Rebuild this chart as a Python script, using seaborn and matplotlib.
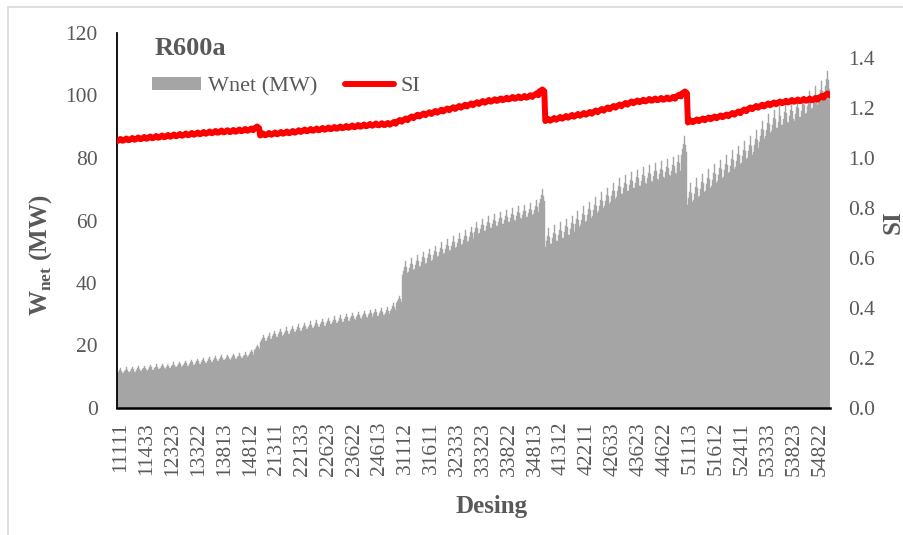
import numpy as np
import pandas as pd
import seaborn as sns
import matplotlib
matplotlib.use("Agg")
import matplotlib.pyplot as plt
from matplotlib.patches import Patch, Rectangle
from matplotlib.lines import Line2D

# ---------------------------------------------------------------
# Net power (MW): lower edge of each sawtooth tooth, 24 teeth per
# first design digit (1..5)
# ---------------------------------------------------------------
wnet_g1 = [11.0, 11.2, 11.4, 11.6, 11.8, 12.0, 12.2, 12.4, 12.6, 12.8, 13.0, 13.3,
           13.6, 13.9, 14.2, 14.5, 14.8, 15.1, 15.3, 15.5, 15.7, 16.0, 16.8, 18.5]
wnet_g2 = [21.0, 21.6, 22.2, 22.8, 23.3, 23.8, 24.3, 24.8, 25.2, 25.6, 26.0, 26.4,
           26.8, 27.2, 27.6, 28.0, 28.3, 28.6, 28.9, 29.2, 29.5, 29.8, 31.0, 33.5]
wnet_g3 = [42.5, 43.5, 44.5, 45.5, 46.5, 47.5, 48.5, 49.5, 50.5, 51.5, 52.5, 53.5,
           55.0, 56.0, 56.8, 57.5, 58.2, 58.8, 59.4, 60.0, 60.5, 61.0, 62.0, 65.5]
wnet_g4 = [51.5, 52.5, 53.5, 54.5, 55.5, 57.0, 58.5, 60.0, 61.5, 63.0, 64.5, 66.0,
           67.5, 68.5, 69.5, 70.3, 71.0, 71.7, 72.4, 73.0, 73.6, 74.2, 75.0, 81.0]
wnet_g5 = [65.0, 66.5, 68.0, 69.5, 71.0, 72.5, 74.0, 75.5, 77.0, 78.5, 80.0, 82.0,
           85.0, 87.0, 88.5, 89.5, 90.5, 91.3, 92.0, 93.0, 94.5, 96.0, 97.5, 101.0]
# tooth height (MW) inside each group
wnet_tooth_height = [1.8, 2.5, 4.5, 6.0, 7.0]

# ---------------------------------------------------------------
# Sustainability index, same tooth grid
# ---------------------------------------------------------------
si_g1 = [1.068, 1.070, 1.072, 1.074, 1.076, 1.078, 1.080, 1.082, 1.084, 1.086, 1.088, 1.090,
         1.092, 1.094, 1.096, 1.098, 1.100, 1.102, 1.103, 1.104, 1.106, 1.108, 1.110, 1.118]
si_g2 = [1.090, 1.092, 1.094, 1.096, 1.098, 1.100, 1.103, 1.106, 1.108, 1.110, 1.112, 1.114,
         1.116, 1.118, 1.120, 1.122, 1.124, 1.126, 1.128, 1.130, 1.131, 1.132, 1.136, 1.144]
si_g3 = [1.150, 1.158, 1.165, 1.170, 1.175, 1.180, 1.185, 1.190, 1.195, 1.200, 1.205, 1.210,
         1.215, 1.220, 1.224, 1.227, 1.230, 1.233, 1.236, 1.238, 1.240, 1.243, 1.250, 1.266]
si_g4 = [1.148, 1.152, 1.156, 1.160, 1.164, 1.168, 1.172, 1.176, 1.182, 1.188, 1.194, 1.200,
         1.206, 1.212, 1.218, 1.222, 1.225, 1.228, 1.230, 1.232, 1.234, 1.236, 1.245, 1.258]
si_g5 = [1.142, 1.146, 1.150, 1.154, 1.158, 1.162, 1.166, 1.172, 1.178, 1.186, 1.194, 1.200,
         1.205, 1.210, 1.214, 1.218, 1.221, 1.224, 1.226, 1.228, 1.230, 1.232, 1.240, 1.250]
si_tooth_height = 0.008

# shape of one tooth (fraction of tooth height for the six designs in it)
tooth_profile = [0.0, 0.3, 0.6, 1.0, 0.55, 0.15]

# design codes shown on the category axis
tick_labels = ["11111", "11433", "12323", "13322", "13813", "14812", "21311",
               "22133", "22623", "23622", "24613", "31112", "31611", "32333",
               "33323", "33822", "34813", "41312", "42211", "42633", "43623",
               "44622", "51113", "51612", "52411", "53333", "53823", "54822"]

# ---------------------------------------------------------------
wnet_groups = [wnet_g1, wnet_g2, wnet_g3, wnet_g4, wnet_g5]
si_groups = [si_g1, si_g2, si_g3, si_g4, si_g5]

wnet, si = [], []
for wg, sg, h in zip(wnet_groups, si_groups, wnet_tooth_height):
    for wb, sb in zip(wg, sg):
        for p in tooth_profile:
            wnet.append(wb + h * p)
            si.append(sb + si_tooth_height * p)

df = pd.DataFrame({"design": np.arange(len(wnet)), "Wnet": wnet, "SI": si})
n = len(df)

sns.set_style("white")
plt.rcParams["font.family"] = ["Liberation Serif", "DejaVu Serif"]
plt.rcParams["mathtext.fontset"] = "custom"
plt.rcParams["mathtext.rm"] = "Liberation Serif"
plt.rcParams["mathtext.bf"] = "Liberation Serif:bold"

txt = "#595959"
bar_c = "#A5A5A5"

fig = plt.figure(figsize=(9.04, 5.35), dpi=100)
ax = fig.add_axes([117 / 904, 1 - 408 / 535, 713 / 904, 375 / 535])

sns.barplot(data=df, x="design", y="Wnet", native_scale=True, width=1.0,
            color=bar_c, saturation=1, edgecolor=bar_c, linewidth=0.3, ax=ax)
ax.set_xlim(-0.5, n - 0.5)
ax.set_ylim(0, 120)
ax.set_yticks(np.arange(0, 121, 20))
ax.set_yticklabels([str(v) for v in range(0, 121, 20)])

ax2 = ax.twinx()
sns.lineplot(data=df, x="design", y="SI", color="#FF0000", linewidth=4.3, ax=ax2)
ax2.set_ylim(0, 1.5)
ax2.set_yticks(np.arange(0, 1.41, 0.2))
ax2.set_yticklabels([f"{v:.1f}" for v in np.arange(0, 1.41, 0.2)])
ax2.set_xlim(-0.5, n - 0.5)

tick_pos = np.linspace(3.5, 709.5, len(tick_labels))
ax.set_xticks(tick_pos)
ax.set_xticklabels(tick_labels, rotation=90)

for a in (ax, ax2):
    for s in a.spines.values():
        s.set_visible(False)
    a.tick_params(length=0, labelsize=15.5, colors=txt)
ax.spines["left"].set_visible(True)
ax.spines["bottom"].set_visible(True)
ax.spines["left"].set_color("#000000")
ax.spines["bottom"].set_color("#000000")
ax.spines["left"].set_linewidth(1.3)
ax.spines["bottom"].set_linewidth(1.8)
ax.tick_params(axis="y", pad=14)
ax.tick_params(axis="x", pad=10)
ax2.tick_params(axis="y", pad=13)

ax.set_xlabel("Desing", fontsize=18, fontweight="bold", color=txt)
ax.xaxis.set_label_coords((492 - 117) / 713, (408 - 495) / 375)
ax.set_ylabel(r"W$_{\mathbf{net}}$ (MW)", fontsize=18, fontweight="bold", color=txt)
ax.yaxis.set_label_coords((54 - 117) / 713, (408 - 255) / 375)
ax2.set_ylabel("")
fig.text(893 / 904, 1 - 222 / 535, "SI", rotation=90, ha="center", va="center",
         fontsize=18, fontweight="bold", color=txt)

ax.text((155 - 117) / 713, (408 - 55) / 375, "R600a", transform=ax.transAxes,
        fontsize=19, fontweight="bold", color=txt, va="baseline", ha="left")

handles = [Patch(facecolor=bar_c, edgecolor="none", label="Wnet (MW)"),
           Line2D([], [], color="#FF0000", linewidth=4.3, label="SI")]
ax.legend(handles=handles, loc="center left",
          bbox_to_anchor=((152 - 117) / 713, (408 - 86.5) / 375),
          ncol=2, frameon=False, fontsize=16, labelcolor=txt,
          handlelength=2.2, handleheight=0.5, handletextpad=0.3,
          columnspacing=1.25, borderpad=0, borderaxespad=0)

fig.add_artist(Rectangle((8 / 904, -0.05), 1.2, 1 - 7 / 535 + 0.05,
                         transform=fig.transFigure, fill=False,
                         edgecolor="#D9D9D9", linewidth=1.2))

fig.savefig("out.png", dpi=100)
